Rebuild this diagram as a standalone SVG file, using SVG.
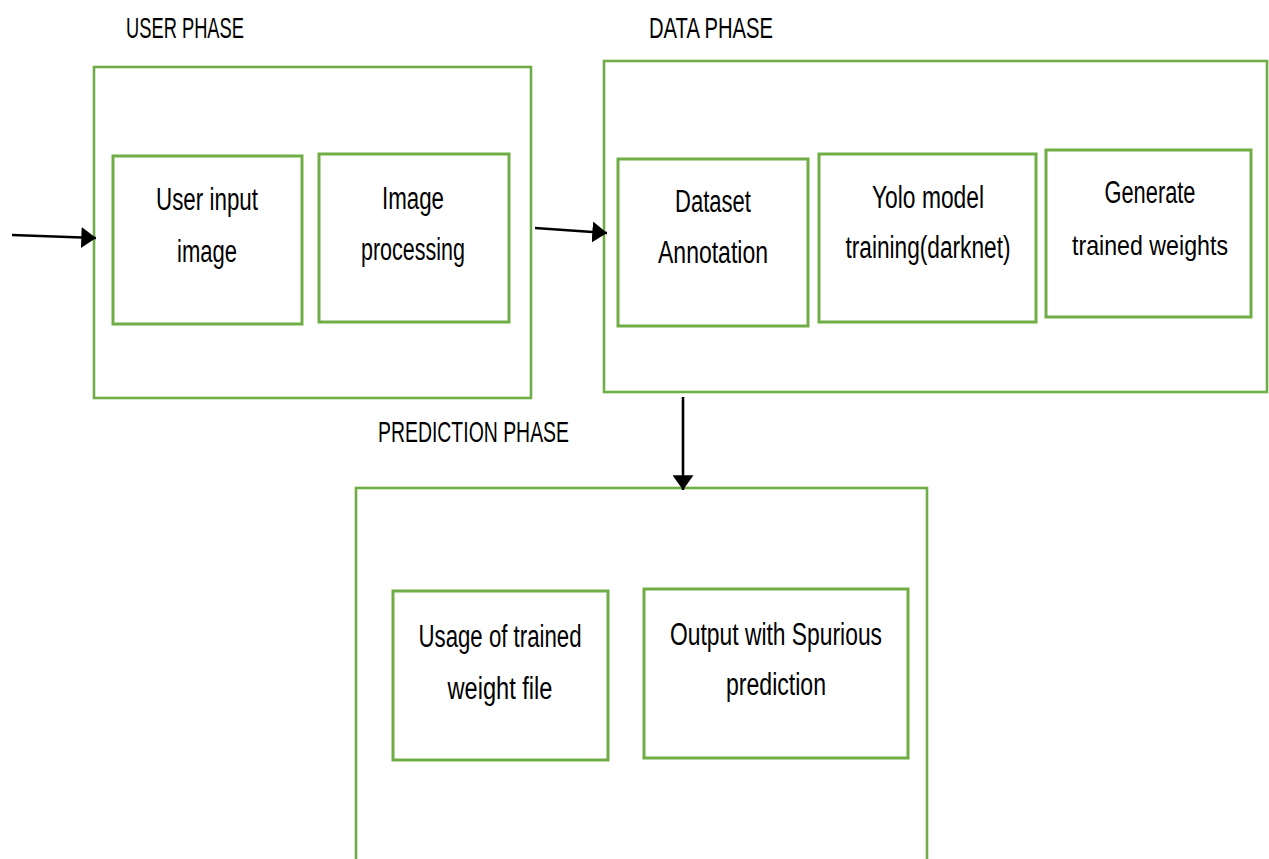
<svg xmlns="http://www.w3.org/2000/svg" width="1269" height="859" viewBox="0 0 1269 859">
  <style>
    .frame { fill: none; stroke: #70AD47; stroke-width: 2.6; }
    .box { fill: none; stroke: #70AD47; stroke-width: 3; }
    .label { font-family: "Liberation Sans", Arial, sans-serif; font-size: 31px; fill: #000; text-anchor: middle; }
    .title { font-family: "Liberation Sans", Arial, sans-serif; font-size: 30px; fill: #000; }
    .wire { stroke: #000; stroke-width: 2.6; fill: none; }
  </style>
  <defs>
    <marker id="arrow" viewBox="0 0 14 20" refX="14" refY="10" markerWidth="15" markerHeight="21" markerUnits="userSpaceOnUse" orient="auto">
      <path d="M0,0 L14,10 L0,20 Z" fill="#000"/>
    </marker>
  </defs>

  <rect width="1269" height="859" fill="#fff"/>

  <!-- User phase -->
  <g id="user-phase">
    <text class="title" x="126" y="38" textLength="118" lengthAdjust="spacingAndGlyphs">USER PHASE</text>
    <rect class="frame" x="94" y="67" width="437" height="331"/>
  </g>
  <g id="user-input">
    <rect class="box" x="113" y="156" width="189" height="168"/>
    <text class="label" x="207" y="210" textLength="102" lengthAdjust="spacingAndGlyphs">User input</text>
    <text class="label" x="207" y="262" textLength="60" lengthAdjust="spacingAndGlyphs">image</text>
  </g>
  <g id="image-processing">
    <rect class="box" x="319" y="154" width="190" height="168"/>
    <text class="label" x="413" y="209" textLength="62" lengthAdjust="spacingAndGlyphs">Image</text>
    <text class="label" x="413" y="260" textLength="104" lengthAdjust="spacingAndGlyphs">processing</text>
  </g>

  <!-- Data phase -->
  <g id="data-phase">
    <text class="title" x="649" y="38" textLength="124" lengthAdjust="spacingAndGlyphs">DATA PHASE</text>
    <rect class="frame" x="604" y="61" width="663" height="331"/>
  </g>
  <g id="dataset-annotation">
    <rect class="box" x="618" y="159" width="190" height="167"/>
    <text class="label" x="713" y="212" textLength="76" lengthAdjust="spacingAndGlyphs">Dataset</text>
    <text class="label" x="713" y="263" textLength="110" lengthAdjust="spacingAndGlyphs">Annotation</text>
  </g>
  <g id="yolo-training">
    <rect class="box" x="819" y="154" width="217" height="168"/>
    <text class="label" x="928" y="208" textLength="112" lengthAdjust="spacingAndGlyphs">Yolo model</text>
    <text class="label" x="928" y="258" textLength="165" lengthAdjust="spacingAndGlyphs">training(darknet)</text>
  </g>
  <g id="generate-weights">
    <rect class="box" x="1046" y="150" width="205" height="167"/>
    <text class="label" x="1150" y="203" textLength="91" lengthAdjust="spacingAndGlyphs">Generate</text>
    <text class="label" x="1150" y="255" style="font-size:28px" textLength="156" lengthAdjust="spacingAndGlyphs">trained weights</text>
  </g>

  <!-- Prediction phase -->
  <g id="prediction-phase">
    <text class="title" x="378" y="442" textLength="191" lengthAdjust="spacingAndGlyphs">PREDICTION PHASE</text>
    <rect class="frame" x="356" y="488" width="571" height="400"/>
  </g>
  <g id="trained-weight-usage">
    <rect class="box" x="393" y="591" width="215" height="169"/>
    <text class="label" x="500" y="647" textLength="163" lengthAdjust="spacingAndGlyphs">Usage of trained</text>
    <text class="label" x="500" y="699" textLength="105" lengthAdjust="spacingAndGlyphs">weight file</text>
  </g>
  <g id="spurious-output">
    <rect class="box" x="644" y="589" width="264" height="169"/>
    <text class="label" x="776" y="645" textLength="212" lengthAdjust="spacingAndGlyphs">Output with Spurious</text>
    <text class="label" x="776" y="695" textLength="100" lengthAdjust="spacingAndGlyphs">prediction</text>
  </g>

  <!-- Connectors -->
  <g id="connectors">
    <line class="wire" x1="12" y1="235" x2="96" y2="238" marker-end="url(#arrow)"/>
    <line class="wire" x1="535" y1="228" x2="607" y2="233" marker-end="url(#arrow)"/>
    <line class="wire" x1="683" y1="397" x2="683" y2="490" marker-end="url(#arrow)"/>
  </g>
</svg>
